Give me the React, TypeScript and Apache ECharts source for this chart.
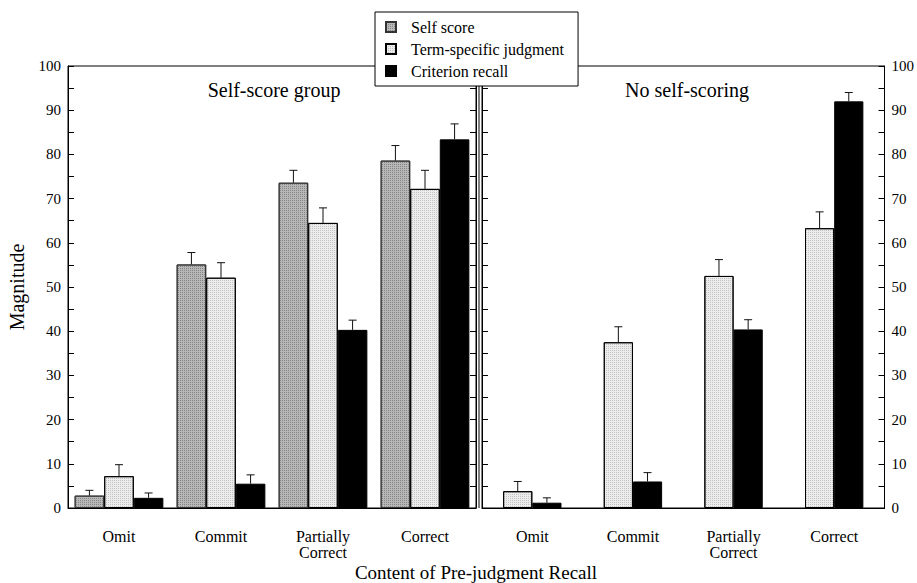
import React, { useEffect, useRef } from "react";
import * as echarts from "echarts";

const FAMILY = "Liberation Serif";
const FONT = '"Liberation Serif", "Times New Roman", Times, serif';

const categories = ["Omit", "Commit", "Partially\nCorrect", "Correct"];
const legendNames = ["Self score", "Term-specific judgment", "Criterion recall"];

// Self-score group (left panel)
const selfScore = [2.8, 55.1, 73.6, 78.6];
const selfScoreErr = [4.0, 57.8, 76.4, 82.0];
const termSelf = [7.2, 52.1, 64.5, 72.2];
const termSelfErr = [9.8, 55.5, 67.9, 76.4];
const critSelf = [2.3, 5.5, 40.3, 83.4];
const critSelfErr = [3.4, 7.5, 42.5, 86.9];

// No self-scoring (right panel)
const termNo = [3.8, 37.5, 52.5, 63.3];
const termNoErr = [6.0, 41.0, 56.2, 67.0];
const critNo = [1.2, 6.0, 40.4, 92.0];
const critNoErr = [2.3, 8.0, 42.6, 94.0];

const yTicks = { min: 0, max: 100, interval: 10 };

function errRender(nSeries: number, gapFrac: number, pos: number) {
  return (params: any, api: any) => {
    const cat = api.value(0);
    const val = api.value(1);
    const err = api.value(2);
    const base = api.coord([cat, val]);
    const top = api.coord([cat, err]);
    const band = api.size([1, 0])[0];
    const bw = (band * (1 - gapFrac)) / nSeries;
    const x = base[0] + (pos - (nSeries - 1) / 2) * bw;
    const style = { stroke: "#111", lineWidth: 1 };
    return {
      type: "group",
      children: [
        { type: "line", shape: { x1: x, y1: base[1], x2: x, y2: top[1] }, style },
        { type: "line", shape: { x1: x - 4, y1: top[1], x2: x + 4, y2: top[1] }, style },
      ],
    };
  };
}

function errData(vals: number[], errs: number[]) {
  return vals.map((v, i) => [i, v, errs[i]]);
}

export default function App() {
  const ref = useRef<HTMLDivElement>(null);
  useEffect(() => {
    if (!ref.current) return;
    const chart = echarts.init(ref.current, undefined, { renderer: "svg" });

    const yBase = (gridIndex: number, position: string, showLabels: boolean) => ({
      type: "value",
      gridIndex,
      position,
      min: yTicks.min,
      max: yTicks.max,
      interval: yTicks.interval,
      splitLine: { show: false },
      axisLine: { show: true, lineStyle: { color: "#000", width: 1 } },
      axisTick: { show: true, inside: true, length: 6, lineStyle: { color: "#000" } },
      minorTick: { show: true, splitNumber: 2, length: 6, lineStyle: { color: "#000" } },
      axisLabel: {
        show: showLabels,
        color: "#000",
        fontFamily: FONT,
        fontSize: 15,
        margin: 7,
      },
    });

    const xBase = (gridIndex: number) => ({
      type: "category",
      gridIndex,
      data: categories,
      axisLine: { show: true, lineStyle: { color: "#000", width: 1 } },
      axisTick: { show: false },
      axisLabel: {
        interval: 0,
        color: "#000",
        fontFamily: FONT,
        fontSize: 16,
        lineHeight: 16,
        margin: 20,
      },
    });

    const selfDecal = {
      symbol: "rect",
      symbolSize: 1,
      dashArrayX: [1, 1],
      dashArrayY: [1, 1],
      color: "rgba(80,80,80,0.5)",
    };
    const termDecal = {
      symbol: "rect",
      symbolSize: 1,
      dashArrayX: [1, 1],
      dashArrayY: [1, 1],
      color: "rgba(120,120,120,0.35)",
    };

    const barStyle = (color: string, border: string, decal?: any) => {
      const s: any = { color, borderColor: border, borderWidth: 1 };
      if (decal) s.decal = decal;
      return s;
    };

    const LEFT_GAP = 0.13;
    const RIGHT_GAP = 0.42;

    const option: any = {
      animation: false,
      backgroundColor: "#fff",
      textStyle: { fontFamily: FAMILY, color: "#000" },
      grid: [
        { left: 68, right: 441, top: 66, bottom: 75, show: true, borderColor: "#000", borderWidth: 1 },
        { left: 482, right: 29, top: 66, bottom: 75, show: true, borderColor: "#000", borderWidth: 1 },
      ],
      legend: {
        data: legendNames,
        orient: "vertical",
        left: 375,
        top: 12,
        backgroundColor: "#fff",
        borderColor: "#000",
        borderWidth: 1,
        padding: [7, 14, 7, 10],
        itemWidth: 10,
        itemHeight: 10,
        itemGap: 6,
        icon: "rect",
        selectedMode: false,
        textStyle: { fontFamily: FONT, fontSize: 16, color: "#000", padding: [0, 0, 0, 10] },
      },
      xAxis: [xBase(0), xBase(1)],
      yAxis: [
        {
          ...yBase(0, "left", true),
          name: "Magnitude",
          nameLocation: "middle",
          nameGap: 41,
          nameTextStyle: { fontFamily: FONT, fontSize: 20, color: "#000" },
        },
        yBase(0, "right", false),
        yBase(1, "left", false),
        yBase(1, "right", true),
      ],
      graphic: [
        { type: "text", x: 274, y: 90, style: { text: "Self-score group", font: `20px ${FONT}`, fill: "#000", textAlign: "center", textVerticalAlign: "middle" } },
        { type: "text", x: 687, y: 90, style: { text: "No self-scoring", font: `20px ${FONT}`, fill: "#000", textAlign: "center", textVerticalAlign: "middle" } },
        { type: "text", x: 476, y: 572, style: { text: "Content of Pre-judgment Recall", font: `19px ${FONT}`, fill: "#000", textAlign: "center", textVerticalAlign: "middle" } },
        { type: "line", shape: { x1: 479, y1: 66, x2: 479, y2: 508 }, style: { stroke: "#000", lineWidth: 1 }, z: 1 },
      ],
      series: [
        { type: "bar", name: "Self score", xAxisIndex: 0, yAxisIndex: 0, data: selfScore, barGap: "0%", barCategoryGap: "13%", itemStyle: barStyle("#b8b8b8", "#333", selfDecal) },
        { type: "bar", name: "Term-specific judgment", xAxisIndex: 0, yAxisIndex: 0, data: termSelf, barGap: "0%", barCategoryGap: "13%", itemStyle: barStyle("#ececec", "#000", termDecal) },
        { type: "bar", name: "Criterion recall", xAxisIndex: 0, yAxisIndex: 0, data: critSelf, barGap: "0%", barCategoryGap: "13%", itemStyle: barStyle("#000000", "#000") },
        { type: "bar", name: "Term-specific judgment", xAxisIndex: 1, yAxisIndex: 2, data: termNo, barGap: "0%", barCategoryGap: "42%", itemStyle: barStyle("#ececec", "#000", termDecal) },
        { type: "bar", name: "Criterion recall", xAxisIndex: 1, yAxisIndex: 2, data: critNo, barGap: "0%", barCategoryGap: "42%", itemStyle: barStyle("#000000", "#000") },
        { type: "custom", name: "err-self", xAxisIndex: 0, yAxisIndex: 0, renderItem: errRender(3, LEFT_GAP, 0), data: errData(selfScore, selfScoreErr), encode: { x: 0, y: [1, 2] }, z: 3 },
        { type: "custom", name: "err-term", xAxisIndex: 0, yAxisIndex: 0, renderItem: errRender(3, LEFT_GAP, 1), data: errData(termSelf, termSelfErr), encode: { x: 0, y: [1, 2] }, z: 3 },
        { type: "custom", name: "err-crit", xAxisIndex: 0, yAxisIndex: 0, renderItem: errRender(3, LEFT_GAP, 2), data: errData(critSelf, critSelfErr), encode: { x: 0, y: [1, 2] }, z: 3 },
        { type: "custom", name: "err-term-no", xAxisIndex: 1, yAxisIndex: 2, renderItem: errRender(2, RIGHT_GAP, 0), data: errData(termNo, termNoErr), encode: { x: 0, y: [1, 2] }, z: 3 },
        { type: "custom", name: "err-crit-no", xAxisIndex: 1, yAxisIndex: 2, renderItem: errRender(2, RIGHT_GAP, 1), data: errData(critNo, critNoErr), encode: { x: 0, y: [1, 2] }, z: 3 },
      ],
    };

    chart.setOption(option);
    return () => chart.dispose();
  }, []);

  return (
    <div
      ref={ref}
      style={{ position: "fixed", left: 0, top: 0, width: 917, height: 583, background: "#fff" }}
    />
  );
}
